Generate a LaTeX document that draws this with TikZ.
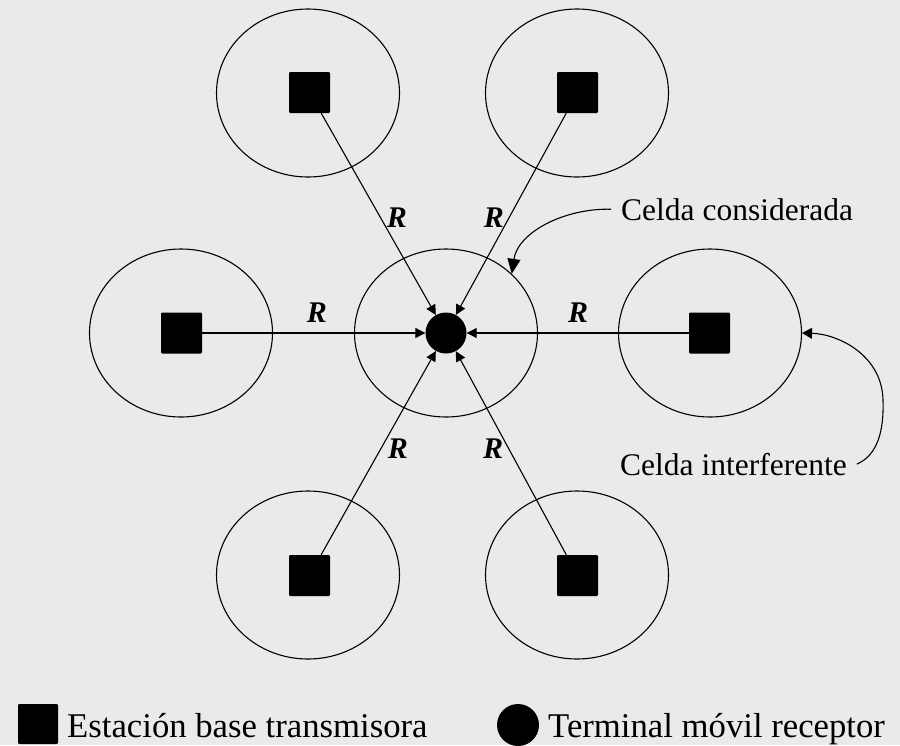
\documentclass[tikz,border=0pt]{standalone}
\usepackage{fontspec}
\setmainfont{Liberation Serif}
\usetikzlibrary{shapes.geometric,arrows.meta}
\definecolor{bgpaper}{HTML}{EAEAEA}
\begin{document}
\begin{tikzpicture}[x=1pt,y=-1pt,
  cellshape/.style={draw,ellipse,line width=1.1pt,minimum width=183pt,minimum height=168pt,inner sep=0pt},
  station/.style={fill=black,minimum size=41pt,inner sep=0pt,rounded corners=1.2pt},
  mobile/.style={circle,fill=black,minimum size=41pt,inner sep=0pt},
  link/.style={line width=1.1pt,-{Triangle[length=10pt,width=10pt]}},
  rlabel/.style={font=\fontsize{30}{34}\selectfont\bfseries\itshape,inner sep=0pt},
  note/.style={font=\fontsize{31.5}{36}\selectfont,inner sep=0pt},
  legendtext/.style={font=\fontsize{34.7}{40}\selectfont,inner sep=0pt},
  pointer/.style={line width=1.1pt}]
  % background
  \fill[bgpaper] (0,0) rectangle (900,745);
  \useasboundingbox (0,0) rectangle (900,745);

  % cells
  \node[cellshape] (cell0) at (446,333) {};
  \node[cellshape] (cell1) at (308,93) {};
  \node[cellshape] (cell2) at (577,93) {};
  \node[cellshape] (cell3) at (181,333) {};
  \node[cellshape] (cell4) at (710,333) {};
  \node[cellshape] (cell5) at (308,575) {};
  \node[cellshape] (cell6) at (577,575) {};

  % mobile terminal
  \node[mobile] (ms) at (446,333) {};

  % base stations
  \node[station] (bs1) at (309.5,92.5) {};
  \node[station] (bs2) at (577.5,92.5) {};
  \node[station] (bs3) at (181.5,333) {};
  \node[station] (bs4) at (709.5,333) {};
  \node[station] (bs5) at (309.5,575.5) {};
  \node[station] (bs6) at (577.5,575.5) {};

  % interference links
  \foreach \s in {bs1,bs2,bs3,bs4,bs5,bs6}
    \draw[link] (\s) -- (ms);

  % distance labels
  \node[rlabel] (r1) at (397,218) {R};
  \node[rlabel] (r2) at (494,218) {R};
  \node[rlabel] (r3) at (317,313) {R};
  \node[rlabel] (r4) at (578,313) {R};
  \node[rlabel] (r5) at (398,449) {R};
  \node[rlabel] (r6) at (493,449) {R};

  % annotations
  \node[note,anchor=base west] (lblA) at (621,220) {Celda considerada};
  \node[note,anchor=base west] (lblB) at (620,475) {Celda interferente};
  \draw[pointer,-{Triangle[length=15pt,width=13pt]}]
    ([xshift=-10pt]lblA.west) .. controls (565,208) and (518,232) .. (cell0.42);
  \draw[pointer,-{Triangle[length=10pt,width=11pt]}]
    ([xshift=10pt]lblB.east) .. controls (878,455) and (884,430) .. (883,400)
    .. controls (882,355) and (838,334) .. (cell4.east);

  % legend
  \node[station,minimum size=40pt] (keybs) at (38,724) {};
  \node[legendtext,anchor=base west] (keybstext) at (67,737) {Estación base transmisora};
  \node[mobile,minimum size=42pt] (keyms) at (518,725) {};
  \node[legendtext,anchor=base west] (keymstext) at (548,737) {Terminal móvil receptor};
\end{tikzpicture}
\end{document}
